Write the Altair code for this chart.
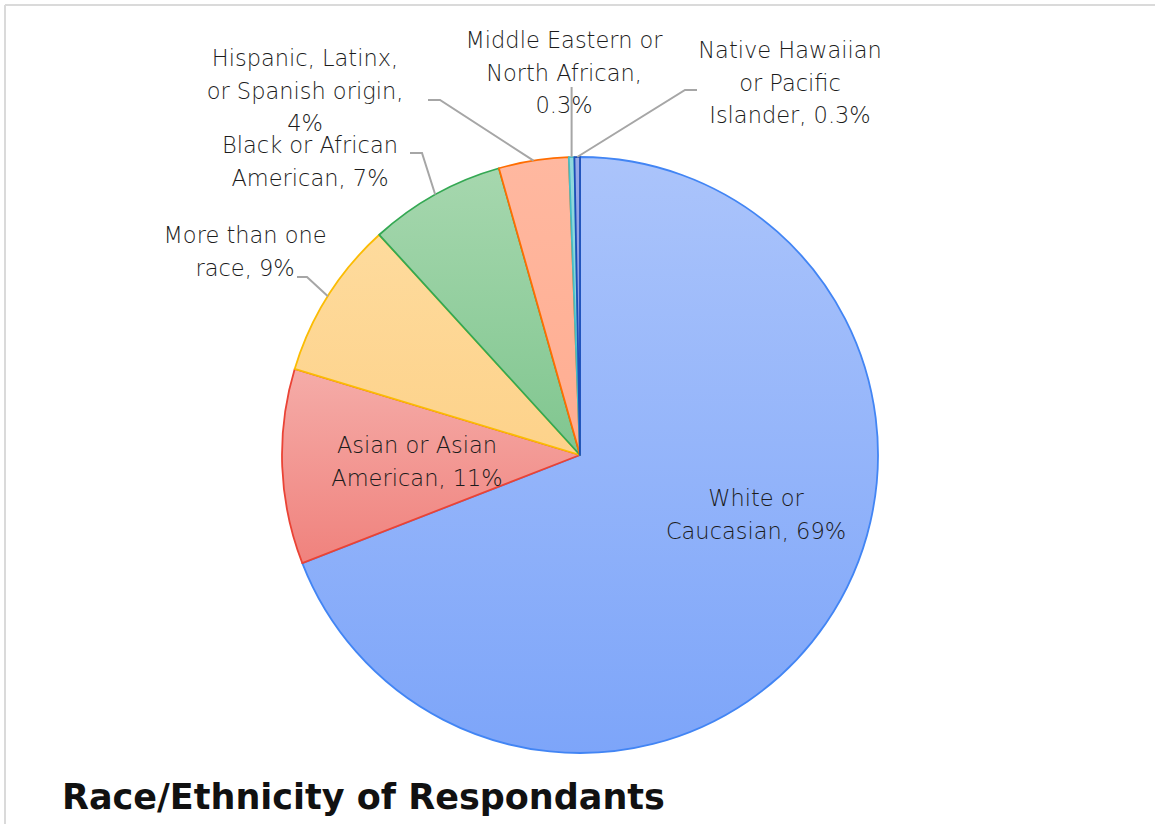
import math
import altair as alt
import pandas as pd

# ---------------- data ----------------
categories = [
    "White or Caucasian",
    "Asian or Asian American",
    "More than one race",
    "Black or African American",
    "Hispanic, Latinx, or Spanish origin",
    "Middle Eastern or North African",
    "Native Hawaiian or Pacific Islander",
]
values = [69.3, 10.6, 8.6, 7.4, 3.8, 0.3, 0.3]
label_lines = [
    ["White or", "Caucasian, 69%"],
    ["Asian or Asian", "American, 11%"],
    ["More than one", "race, 9%"],
    ["Black or African", "American, 7%"],
    ["Hispanic, Latinx,", "or Spanish origin,", "4%"],
    ["Middle Eastern or", "North African,", "0.3%"],
    ["Native Hawaiian", "or Pacific", "Islander, 0.3%"],
]
title_text = "Race/Ethnicity of Respondants"

# ---------------- styles / layout ----------------
fill_top = ["#abc4fb", "#f5aca8", "#fedb9d", "#a6d7ae", "#ffb8a0", "#92d9dd", "#98a8e6"]
fill_bottom = ["#7da5f9", "#f0827d", "#fdd28a", "#80c68f", "#ffad91", "#7fd0d5", "#8595dc"]
edges = ["#4285f4", "#ea4335", "#fbbc04", "#34a853", "#ff6d01", "#46bdc6", "#1f4fb8"]

CX, CY, R = 580, 455, 298
W, H = 1155, 824
FONT = "DejaVu Sans"
LABEL_SIZE = 22.5
LINE_H = 32.5

# label anchor (center x, first-line baseline y)
label_pos = [(756, 506), (417, 453), (245, 243), (310, 153), (305, 66), (564, 48), (790, 58)]
# leader line start points (from label side), arc point appended from data
leader_start = {
    2: [(297, 277), (307, 277)],
    3: [(410, 153), (422, 153)],
    4: [(428, 100), (440, 100)],
    5: [(None, 87)],
    6: [(697, 90), (685, 90)],
}

# ---------------- derived tables ----------------
df = pd.DataFrame({"category": categories, "value": values, "order": list(range(len(values)))})

total = sum(values)
cum = 0.0
mid_angles = []
for v in values:
    mid_angles.append(2 * math.pi * (cum + v / 2) / total)
    cum += v

leader_rows = []
for i, pts in leader_start.items():
    a = mid_angles[i]
    ax = CX + R * math.sin(a)
    ay = CY - R * math.cos(a)
    k = 0
    for (px, py) in pts:
        leader_rows.append({"category": categories[i], "idx": k, "x": ax if px is None else px, "y": py})
        k += 1
    leader_rows.append({"category": categories[i], "idx": k, "x": ax, "y": ay})
leaders = pd.DataFrame(leader_rows)

labels = pd.DataFrame({
    "category": categories,
    "text": ["\n".join(l) for l in label_lines],
    "lx": [p[0] for p in label_pos],
    "ly": [p[1] for p in label_pos],
})

# ---------------- chart ----------------
base = (
    alt.Chart(df)
    .transform_window(cum="sum(value)", sort=[alt.SortField("order")], frame=[None, 0])
    .transform_joinaggregate(total="sum(value)")
    .transform_calculate(
        t0="2*PI*(datum.cum - datum.value)/datum.total",
        t1="2*PI*datum.cum/datum.total",
    )
)

layers = []
for i, cat in enumerate(categories):
    grad = alt.Gradient(
        gradient="linear",
        stops=[alt.GradientStop(color=fill_top[i], offset=0), alt.GradientStop(color=fill_bottom[i], offset=1)],
        x1=0, x2=0, y1=0, y2=1,
    )
    layers.append(
        base.transform_filter(alt.datum.category == cat)
        .mark_arc(fill=grad, stroke=edges[i], strokeWidth=1.8, radius=R, strokeJoin="round")
        .encode(
            theta=alt.Theta("t0:Q", scale=None, stack=None),
            theta2="t1:Q",
            x=alt.value(CX),
            y=alt.value(CY),
        )
    )

leader_layer = alt.Chart(leaders).mark_line(color="#a6a6a6", strokeWidth=2).encode(
    x=alt.X("x:Q", scale=None),
    y=alt.Y("y:Q", scale=None),
    detail="category:N",
    order="idx:Q",
)

label_layer = alt.Chart(labels).mark_text(
    font=FONT, fontSize=LABEL_SIZE, fontWeight=200, color="#1c1c1c",
    align="center", baseline="alphabetic", lineBreak="\n", lineHeight=LINE_H,
).encode(
    x=alt.X("lx:Q", scale=None),
    y=alt.Y("ly:Q", scale=None),
    text="text:N",
)

title_layer = alt.Chart(pd.DataFrame({"t": [title_text]})).mark_text(
    font="DejaVu Sans", fontSize=35, fontWeight="bold", color="#111111",
    align="left", baseline="alphabetic",
).encode(x=alt.value(62), y=alt.value(809), text="t:N")

border_top = alt.Chart(pd.DataFrame({"a": [0]})).mark_rule(color="#dadada", strokeWidth=2).encode(
    x=alt.value(5), x2=alt.value(W), y=alt.value(5)
)
border_left = alt.Chart(pd.DataFrame({"a": [0]})).mark_rule(color="#dadada", strokeWidth=2).encode(
    x=alt.value(5), y=alt.value(5), y2=alt.value(H)
)

chart = alt.layer(
    border_top, border_left, *layers, leader_layer, label_layer, title_layer
).properties(
    width=W, height=H, padding=0, autosize="none", background="white"
).configure_view(stroke=None)

chart.save("out.html", embed_options={"renderer": "svg", "actions": False})
